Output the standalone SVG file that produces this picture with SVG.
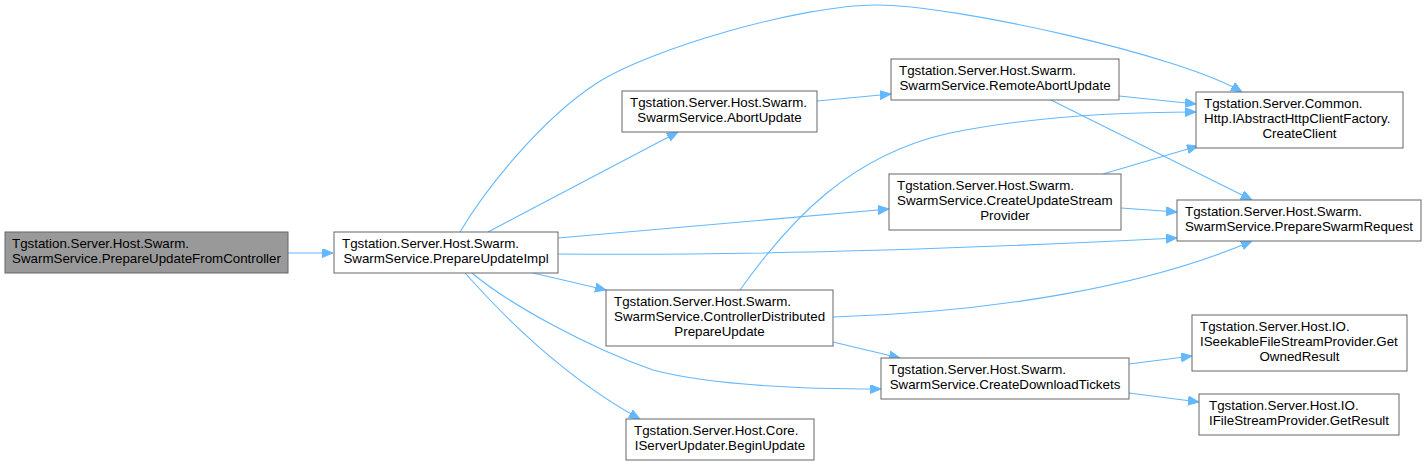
<svg xmlns="http://www.w3.org/2000/svg" width="1427" height="465" viewBox="0 0 1427 465">
<style>
.n rect{fill:#ffffff;stroke:#666666;stroke-width:1}
.n.root rect{fill:#999999}
.n text{font-family:"Liberation Sans",Arial,Helvetica,sans-serif;font-size:13.33px;fill:#000000}
.n text.c{text-anchor:middle}
.e path{fill:none;stroke:#63b8ff;stroke-width:1.1;marker-end:url(#arr)}
</style>
<defs>
<marker id="arr" markerUnits="userSpaceOnUse" markerWidth="12" markerHeight="10" refX="11" refY="4.5" orient="auto">
<path d="M0,0 L11,4.5 L0,9 z" fill="#63b8ff" stroke="#63b8ff" stroke-width="1"/>
</marker>
</defs>
<rect width="1427" height="465" fill="#ffffff"/>
<g id="edges" class="e">
<path d="M288,253 L333,253"/>
<path d="M488,232 L678,132"/>
<path d="M460,232 C485,190 540,120 597,83 C650,49 800,5 877,5 C954,5 1180,55 1242,92"/>
<path d="M558,238 L889,209"/>
<path d="M558,254 C760,256 960,249 1177,238"/>
<path d="M533,273 L606,290"/>
<path d="M472,273 C510,305 590,348 653,370 C710,385 800,389 881,389"/>
<path d="M465,273 C500,312 560,375 640,419"/>
<path d="M817,101 L891,94"/>
<path d="M1119,96 L1196,104"/>
<path d="M1049,99 L1252,200"/>
<path d="M1103,174 L1198,146"/>
<path d="M1121,208 L1177,212"/>
<path d="M740,290 C790,220 850,155 950,133 C1030,117 1120,112 1196,112"/>
<path d="M833,317 C1000,312 1150,285 1252,241"/>
<path d="M833,342 L900,358"/>
<path d="M1129,364 L1192,356"/>
<path d="M1129,393 L1199,402"/>
</g>
<g id="nA" class="n root">
<rect x="5" y="232" width="283" height="41"/>
<text x="12" y="248">Tgstation.Server.Host.Swarm.</text>
<text class="c" x="146.5" y="263">SwarmService.PrepareUpdateFromController</text>
</g>
<g id="nB" class="n">
<rect x="334" y="232" width="224" height="41"/>
<text x="342" y="248">Tgstation.Server.Host.Swarm.</text>
<text class="c" x="446" y="263">SwarmService.PrepareUpdateImpl</text>
</g>
<g id="nC" class="n">
<rect x="622" y="91" width="195" height="41"/>
<text x="630" y="107">Tgstation.Server.Host.Swarm.</text>
<text class="c" x="719.5" y="122">SwarmService.AbortUpdate</text>
</g>
<g id="nD" class="n">
<rect x="891" y="59" width="228" height="41"/>
<text x="899" y="75">Tgstation.Server.Host.Swarm.</text>
<text class="c" x="1005" y="90">SwarmService.RemoteAbortUpdate</text>
</g>
<g id="nE" class="n">
<rect x="889" y="174" width="232" height="56"/>
<text x="897" y="190">Tgstation.Server.Host.Swarm.</text>
<text x="897" y="205">SwarmService.CreateUpdateStream</text>
<text class="c" x="1005" y="220">Provider</text>
</g>
<g id="nF" class="n">
<rect x="606" y="290" width="227" height="56"/>
<text x="614" y="306">Tgstation.Server.Host.Swarm.</text>
<text x="614" y="321">SwarmService.ControllerDistributed</text>
<text class="c" x="719.5" y="336">PrepareUpdate</text>
</g>
<g id="nG" class="n">
<rect x="881" y="358" width="248" height="41"/>
<text x="889" y="374">Tgstation.Server.Host.Swarm.</text>
<text class="c" x="1005" y="389">SwarmService.CreateDownloadTickets</text>
</g>
<g id="nH" class="n">
<rect x="626" y="419" width="188" height="41"/>
<text x="634" y="435">Tgstation.Server.Host.Core.</text>
<text class="c" x="720" y="450">IServerUpdater.BeginUpdate</text>
</g>
<g id="nI" class="n">
<rect x="1196" y="92" width="207" height="56"/>
<text x="1204" y="108">Tgstation.Server.Common.</text>
<text x="1204" y="123">Http.IAbstractHttpClientFactory.</text>
<text class="c" x="1299.5" y="138">CreateClient</text>
</g>
<g id="nJ" class="n">
<rect x="1177" y="200" width="244" height="41"/>
<text x="1185" y="216">Tgstation.Server.Host.Swarm.</text>
<text class="c" x="1299" y="231">SwarmService.PrepareSwarmRequest</text>
</g>
<g id="nK" class="n">
<rect x="1192" y="315" width="215" height="56"/>
<text x="1200" y="331">Tgstation.Server.Host.IO.</text>
<text x="1200" y="346">ISeekableFileStreamProvider.Get</text>
<text class="c" x="1299.5" y="361">OwnedResult</text>
</g>
<g id="nL" class="n">
<rect x="1199" y="394" width="200" height="41"/>
<text x="1209" y="410">Tgstation.Server.Host.IO.</text>
<text class="c" x="1299" y="425">IFileStreamProvider.GetResult</text>
</g>
</svg>
